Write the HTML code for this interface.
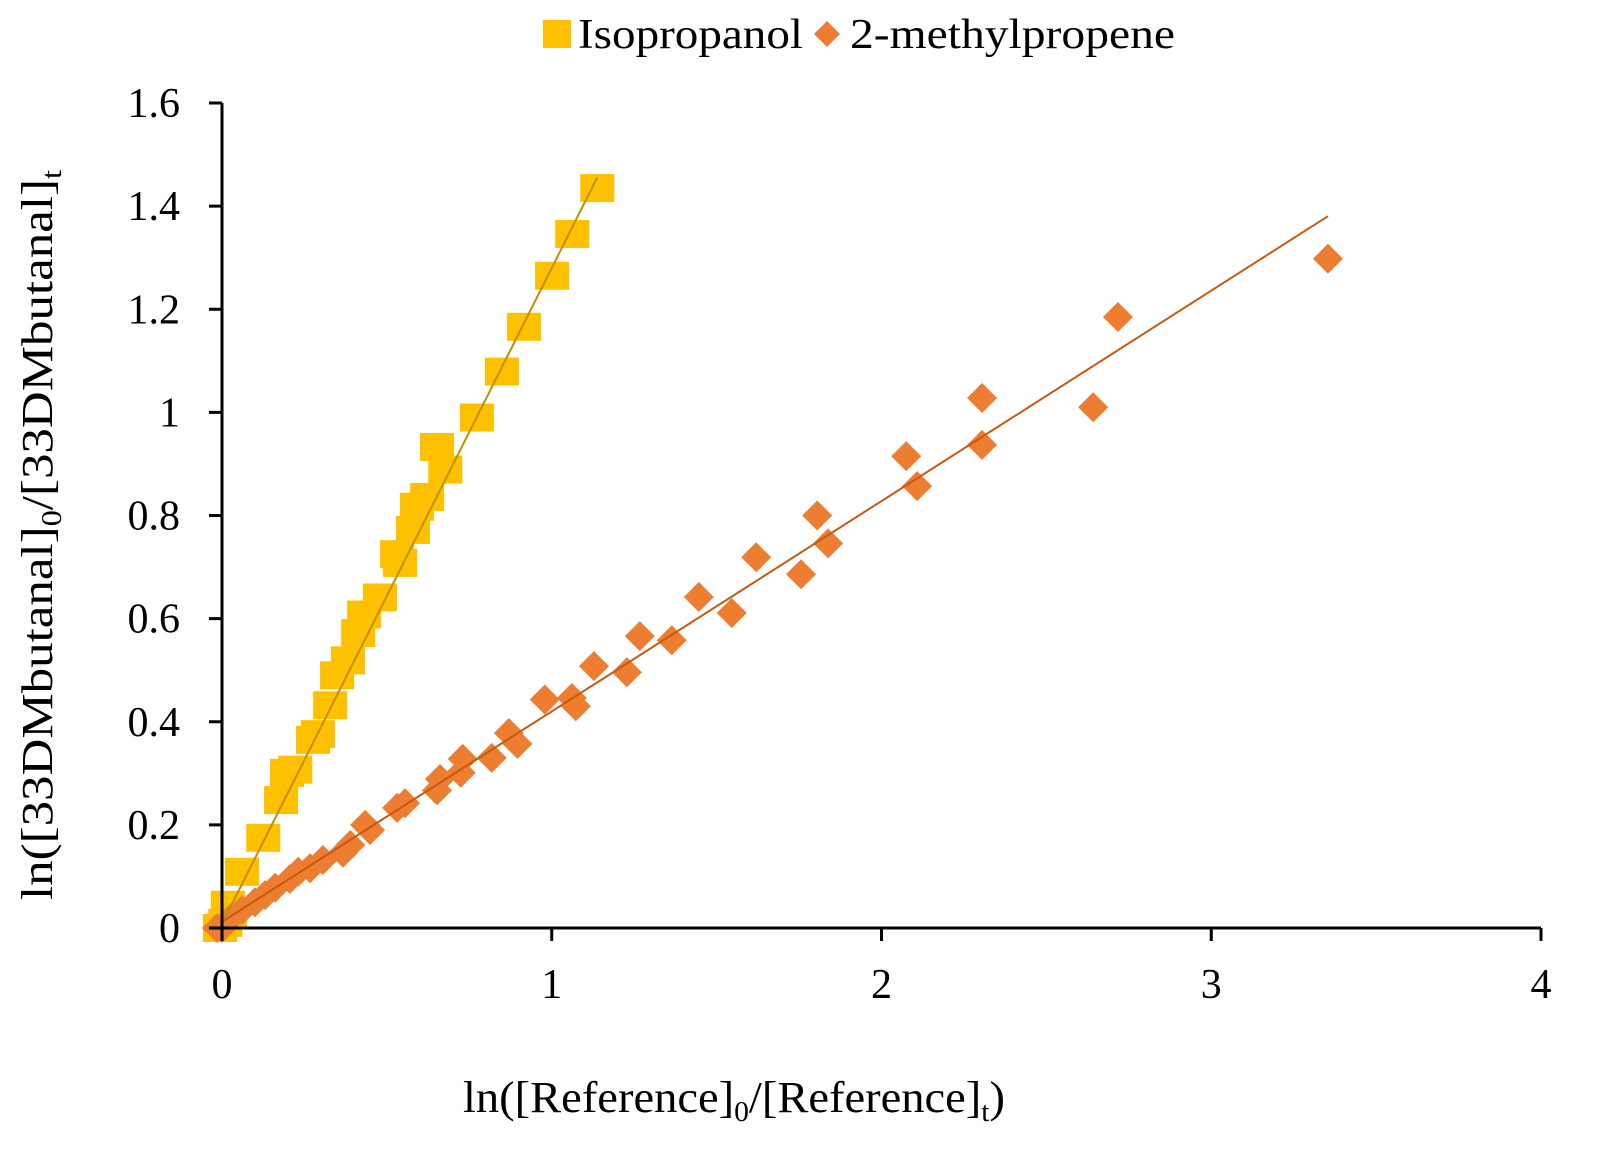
<!DOCTYPE html>
<html><head><meta charset="utf-8"><style>
html,body{margin:0;padding:0;background:#fff;}
svg{display:block;font-family:"Liberation Serif",serif;}
</style></head><body>
<svg id="chart" width="1605" height="1168" viewBox="0 0 1605 1168">
<g id="grid"></g>
<g id="marks"></g>
<g id="axes"></g>
<g>
  <rect x="543" y="20" width="28" height="28" fill="#FFC000"/>
  <text x="578" y="48" font-size="42" textLength="225" lengthAdjust="spacingAndGlyphs">Isopropanol</text>
  <polygon points="827,21 840,34 827,47 814,34" fill="#ED7D31"/>
  <text x="850" y="48" font-size="42" textLength="325" lengthAdjust="spacingAndGlyphs">2-methylpropene</text>
</g>
<text x="463" y="1112" font-size="44" textLength="542" lengthAdjust="spacingAndGlyphs">ln([Reference]<tspan font-size="28" dy="9">0</tspan><tspan dy="-9">/[Reference]</tspan><tspan font-size="28" dy="9">t</tspan><tspan dy="-9">)</tspan></text>
<text transform="translate(52,900) rotate(-90)" font-size="44" textLength="730" lengthAdjust="spacingAndGlyphs">ln([33DMbutanal]<tspan font-size="28" dy="9">0</tspan><tspan dy="-9">/[33DMbutanal]</tspan><tspan font-size="28" dy="9">t</tspan><tspan dy="-9"></tspan></text>
</svg>
<script>
const xTicks=[0,1,2,3,4];
const yTicks=[0,0.2,0.4,0.6,0.8,1,1.2,1.4,1.6];
const yTickLabels=["0","0.2","0.4","0.6","0.8","1","1.2","1.4","1.6"];
const isoX=[1.138,1.062,1.001,0.916,0.849,0.773,0.677,0.652,0.622,0.591,0.579,0.540,0.531,0.479,0.431,0.413,0.382,0.349,0.328,0.291,0.276,0.222,0.197,0.179,0.125,0.061,0.018,-0.006,0.024,0.010];
const isoY=[1.435,1.346,1.265,1.166,1.079,0.990,0.889,0.933,0.836,0.817,0.772,0.708,0.725,0.641,0.608,0.572,0.519,0.490,0.432,0.376,0.365,0.307,0.301,0.248,0.175,0.109,0.045,0.000,0.025,0.010];
const mpX=[3.354,2.717,2.642,2.305,2.305,2.075,2.108,1.805,1.838,1.756,1.620,1.446,1.546,1.364,1.267,1.228,1.128,1.073,1.061,0.979,0.896,0.870,0.818,0.724,0.730,0.652,0.661,0.555,0.531,0.449,0.434,0.389,0.367,0.306,0.267,0.231,0.206,0.161,0.131,0.100,0.061,0.030,0.000,-0.015];
const mpY=[1.298,1.185,1.010,1.028,0.937,0.915,0.857,0.800,0.746,0.686,0.719,0.642,0.611,0.558,0.566,0.496,0.508,0.430,0.446,0.443,0.357,0.378,0.330,0.301,0.328,0.267,0.289,0.242,0.233,0.190,0.200,0.161,0.146,0.132,0.116,0.109,0.095,0.078,0.064,0.050,0.035,0.021,0.000,0.000];
const isoTrend={slope:1.272,intercept:0.008,x0:0,x1:1.138};
const mpTrend={slope:0.408,intercept:0.012,x0:0,x1:3.354};

const X0=222,X1=1541,Y0=928,Y1=103;
const sx=v=>X0+(v-0)/(4-0)*(X1-X0);
const sy=v=>Y0-(v-0)/(1.6-0)*(Y0-Y1);
const NS="http://www.w3.org/2000/svg";
function mk(tag,attrs,parent){const e=document.createElementNS(NS,tag);for(const k in attrs)e.setAttribute(k,attrs[k]);parent.appendChild(e);return e;}
const axes=document.getElementById('axes'),marks=document.getElementById('marks');

let e=mk('line',{x1:X0,y1:Y1,x2:X0,y2:Y0,stroke:'#000','stroke-width':3},axes);


e=mk('line',{x1:X0,y1:Y0,x2:X1,y2:Y0,stroke:'#000','stroke-width':3},axes);


yTicks.forEach((v,i)=>{
  let t=mk('line',{x1:X0-13,y1:sy(v),x2:X0,y2:sy(v),stroke:'#000','stroke-width':3},axes);
  
  
  let l=mk('text',{x:X0-42,y:sy(v)+14,'font-size':42,'text-anchor':'end'},axes);
  l.textContent=yTickLabels[i];
  
  
});
xTicks.forEach(v=>{
  let t=mk('line',{x1:sx(v),y1:Y0,x2:sx(v),y2:Y0+13,stroke:'#000','stroke-width':3},axes);
  
  
  let l=mk('text',{x:sx(v),y:Y0+70,'font-size':42,'text-anchor':'middle'},axes);
  l.textContent=String(v);
  
  
});
isoX.forEach((x,i)=>{
  let r=mk('rect',{x:sx(x)-17,y:sy(isoY[i])-14,width:34,height:28,fill:'#FFC000'},marks);
  
  
});
mpX.forEach((x,i)=>{
  const cx=sx(x),cy=sy(mpY[i]);
  let p=mk('polygon',{points:`${cx},${cy-15} ${cx+15},${cy} ${cx},${cy+15} ${cx-15},${cy}`,fill:'#ED7D31'},marks);
  
  
});
let t1=mk('line',{x1:sx(isoTrend.x0),y1:sy(isoTrend.intercept+isoTrend.slope*isoTrend.x0),x2:sx(isoTrend.x1),y2:sy(isoTrend.intercept+isoTrend.slope*isoTrend.x1),stroke:'#BF9000','stroke-width':2},marks);


let t2=mk('line',{x1:sx(mpTrend.x0),y1:sy(mpTrend.intercept+mpTrend.slope*mpTrend.x0),x2:sx(mpTrend.x1),y2:sy(mpTrend.intercept+mpTrend.slope*mpTrend.x1),stroke:'#C55A11','stroke-width':2},marks);


</script>
</body></html>
